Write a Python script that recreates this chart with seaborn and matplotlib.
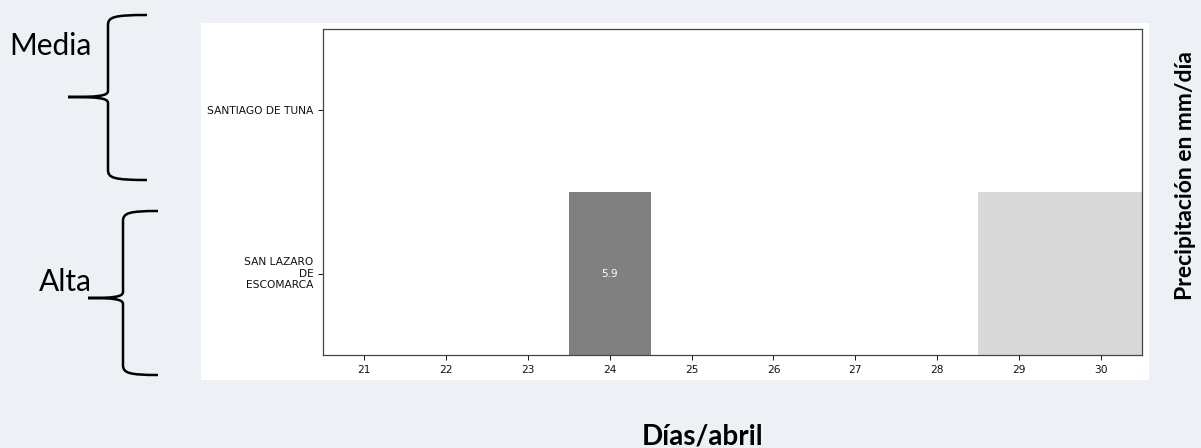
import numpy as np
import pandas as pd
import matplotlib
matplotlib.use("Agg")
import matplotlib.pyplot as plt
import seaborn as sns
from matplotlib.colors import LinearSegmentedColormap
from matplotlib.patches import Rectangle, PathPatch
from matplotlib.path import Path

# datos
dias = [21, 22, 23, 24, 25, 26, 27, 28, 29, 30]
estaciones = ["SANTIAGO DE TUNA", "SAN LAZARO\nDE\nESCOMARCA"]
santiago_de_tuna = [0.0, 0.0, 0.0, 0.0, 0.0, 0.0, 0.0, 0.0, 0.0, 0.0]
san_lazaro = [0.0, 0.0, 0.0, 5.9, 0.0, 0.0, 0.0, 0.0, np.nan, np.nan]
grupos = ["Media", "Alta"]

W, H = 1201, 448
BG = "#EDF0F5"


def fx(x):
    return x / W


def fy(y):
    return 1 - y / H


def llave(fig, x_spine, x_end, x_tip, y_top, y_mid, y_bot):
    # llave "{" dibujada en pixeles
    pts = [
        (x_end, y_top), (x_spine + 6, y_top), (x_spine, y_top + 2), (x_spine, y_top + 10),
        (x_spine, y_mid - 6),
        (x_spine, y_mid - 1), (x_spine - 10, y_mid), (x_tip, y_mid),
        (x_spine - 10, y_mid), (x_spine, y_mid + 1), (x_spine, y_mid + 6),
        (x_spine, y_bot - 10),
        (x_spine, y_bot - 2), (x_spine + 6, y_bot), (x_end, y_bot),
    ]
    codes = [Path.MOVETO, Path.CURVE4, Path.CURVE4, Path.CURVE4,
             Path.LINETO,
             Path.CURVE4, Path.CURVE4, Path.CURVE4,
             Path.CURVE4, Path.CURVE4, Path.CURVE4,
             Path.LINETO,
             Path.CURVE4, Path.CURVE4, Path.CURVE4]
    verts = [(fx(x), fy(y)) for x, y in pts]
    fig.patches.append(PathPatch(Path(verts, codes), transform=fig.transFigure,
                                 fill=False, lw=1.8, color="black", capstyle="butt"))


df = pd.DataFrame([santiago_de_tuna, san_lazaro], index=estaciones, columns=dias)
etiquetas = df.map(lambda v: f"{v:.1f}" if v > 0 else "")

fig = plt.figure(figsize=(W / 100, H / 100), dpi=100, facecolor=BG)

# panel blanco detras del grafico
fig.patches.append(Rectangle((fx(201), fy(380)), fx(1149) - fx(201), fy(23) - fy(380),
                             transform=fig.transFigure, facecolor="white",
                             edgecolor="none", zorder=-5))

ax = fig.add_axes([fx(323), fy(355), fx(1142) - fx(323), fy(29) - fy(355)], zorder=2)
cmap = LinearSegmentedColormap.from_list("gris", ["white", "#808080"])
ax.set_facecolor("#D9D9D9")
sns.heatmap(df, ax=ax, cmap=cmap, vmin=0, vmax=5.9, cbar=False,
            annot=etiquetas, fmt="", annot_kws={"fontsize": 7.5, "color": "white"})

for s in ax.spines.values():
    s.set_visible(True)
    s.set_color("#444444")
    s.set_linewidth(0.9)
ax.tick_params(labelsize=7.7, length=3.5, width=0.7, colors="#111111")
plt.setp(ax.get_yticklabels(), rotation=0, ha="right", va="center")
plt.setp(ax.get_xticklabels(), rotation=0)
ax.set_xlabel("")
ax.set_ylabel("")

# textos exteriores
fig.text(fx(703), fy(436), "Días/abril", fontsize=20, fontweight="bold",
         family="Lato", ha="center", va="center")
fig.text(fx(1186), fy(176), "Precipitación en mm/día", fontsize=16.5, fontweight="bold",
         family="Lato", rotation=90, ha="center", va="center")
fig.text(fx(50), fy(46), grupos[0], fontsize=21.5, family="Lato", ha="center", va="center")
fig.text(fx(65), fy(282), grupos[1], fontsize=21.5, family="Lato", ha="center", va="center")

llave(fig, 108, 147, 68, 15, 97, 180)
llave(fig, 123, 158, 88, 211, 298, 375)

fig.savefig("out.png", dpi=100, facecolor=BG)
